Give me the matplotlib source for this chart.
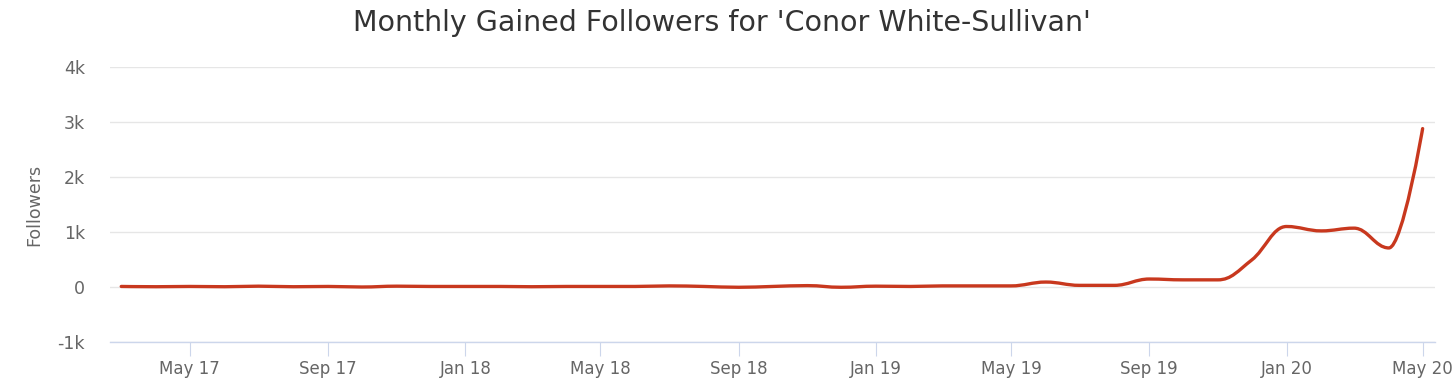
import numpy as np
import pandas as pd
import matplotlib
matplotlib.use("Agg")
import matplotlib.pyplot as plt
import matplotlib.dates as mdates
from matplotlib.path import Path
from matplotlib.patches import PathPatch

# monthly gained followers, Mar 2017 .. May 2020
months = pd.date_range("2017-03-01", "2020-05-01", freq="MS")
followers = [10, 5, 10, 5, 15, 5, 10, 0, 15, 10,
             10, 10, 5, 10, 10, 10, 20, 10, -5,
             10, 25, -5, 15, 10, 20, 20, 20, 90, 30,
             30, 145, 130, 130, 490, 1100, 1020, 1070, 710, 2880]

title = "Monthly Gained Followers for 'Conor White-Sullivan'"
y_ticks = [-1000, 0, 1000, 2000, 3000, 4000]
y_labels = ["-1k", "0", "1k", "2k", "3k", "4k"]
x_ticks = pd.date_range("2017-05-01", "2020-05-01", freq="4MS")

line_color = "#c8381e"
grid_color = "#e6e6e6"
axis_color = "#ccd6eb"
label_color = "#666666"


def spline_path(x, y, smoothing=1.5):
    """Highcharts-like spline (no false extremes) as a cubic bezier path"""
    denom = smoothing + 1
    n = len(x)
    ctrl = []
    for i in range(n):
        if 0 < i < n - 1:
            lx = (smoothing * x[i] + x[i - 1]) / denom
            ly = (smoothing * y[i] + y[i - 1]) / denom
            rx = (smoothing * x[i] + x[i + 1]) / denom
            ry = (smoothing * y[i] + y[i + 1]) / denom
            if rx != lx:
                corr = ((ry - ly) * (rx - x[i])) / (rx - lx) + y[i] - ry
                ly += corr
                ry += corr
            # keep control points between neighbouring values
            lo, hi = min(y[i - 1], y[i]), max(y[i - 1], y[i])
            if ly > hi or ly < lo:
                ly = min(max(ly, lo), hi)
                ry = 2 * y[i] - ly
            lo, hi = min(y[i + 1], y[i]), max(y[i + 1], y[i])
            if ry > hi or ry < lo:
                ry = min(max(ry, lo), hi)
                ly = 2 * y[i] - ry
            ctrl.append(((lx, ly), (rx, ry)))
        else:
            ctrl.append(((x[i], y[i]), (x[i], y[i])))
    verts = [(x[0], y[0])]
    codes = [Path.MOVETO]
    for i in range(1, n):
        verts += [ctrl[i - 1][1], ctrl[i][0], (x[i], y[i])]
        codes += [Path.CURVE4] * 3
    return Path(verts, codes)


fig = plt.figure(figsize=(14.56, 3.87), dpi=100)
ax = fig.add_axes([110 / 1456, 45 / 387, 1325 / 1456, 275 / 387])

xs = mdates.date2num(months)
ax.plot(xs, followers, alpha=0)  # keeps data in the axes
patch = PathPatch(spline_path(xs, np.array(followers, float)), facecolor="none",
                  edgecolor=line_color, linewidth=2.4, capstyle="round", joinstyle="round")
ax.add_patch(patch)

ax.set_ylim(-1000, 4000)
ax.set_xlim(mdates.date2num(pd.Timestamp("2017-02-19")), mdates.date2num(pd.Timestamp("2020-05-12")))
ax.set_yticks(y_ticks)
ax.set_yticklabels(y_labels)
ax.set_xticks(mdates.date2num(x_ticks))
ax.set_xticklabels([d.strftime("%b %y") for d in x_ticks])

ax.grid(axis="y", color=grid_color, linewidth=1)
ax.set_axisbelow(True)
for side in ["top", "right", "left"]:
    ax.spines[side].set_visible(False)
ax.spines["bottom"].set_color(axis_color)
ax.spines["bottom"].set_linewidth(1)
ax.tick_params(axis="x", length=10, color=axis_color, labelcolor=label_color,
               labelsize=12, pad=3)
ax.tick_params(axis="y", length=0, labelcolor=label_color, labelsize=12.5, pad=18)
ax.set_ylabel("Followers", color=label_color, fontsize=12.5, labelpad=10)

fig.suptitle(title, x=0.496, y=0.978, va="top", fontsize=20.5, color="#333333")

fig.savefig("out.png", dpi=100)
